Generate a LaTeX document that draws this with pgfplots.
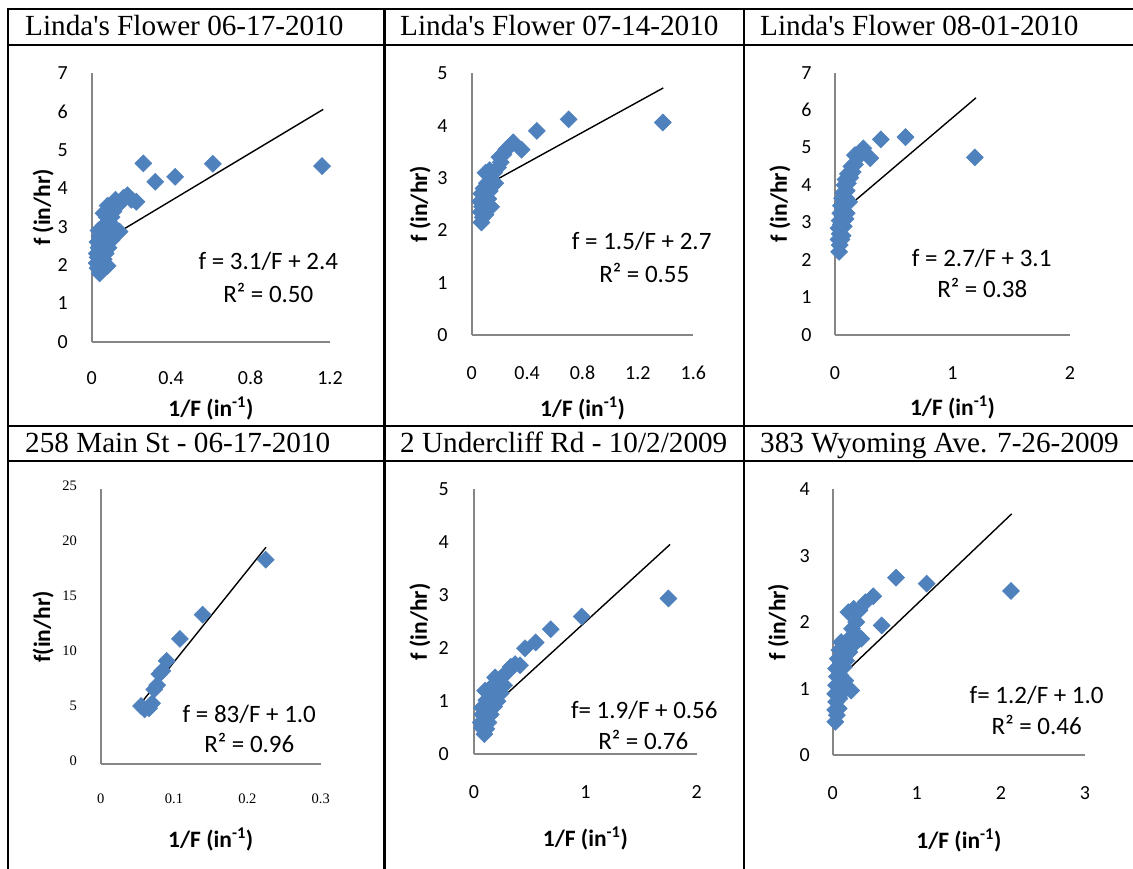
\documentclass[border=0pt]{standalone}
\usepackage{fontspec}
\setmainfont{Liberation Serif}
\newfontfamily\carlito{Carlito}
\usepackage{pgfplots}
\pgfplotsset{compat=1.18}
\definecolor{exblue}{HTML}{4F81BD}
\definecolor{axgray}{HTML}{868686}
\pgfplotsset{
  excel/.style={
    scale only axis,
    anchor=south west,
    axis lines=left,
    axis line style={-, draw=axgray, line width=1.7pt},
    major tick length=0pt,
    clip=false,
    enlargelimits=false,
    /pgf/number format/assume math mode=true,
    ticklabel style={font=\fontsize{20}{24}\selectfont\carlito},
    yticklabel style={anchor=east, inner sep=0pt},
    xticklabel style={anchor=center, inner sep=0pt},
    label style={font=\fontsize{23.5}{27}\selectfont\carlito\bfseries},
    xlabel style={anchor=center, inner sep=0pt},
    ylabel style={anchor=center, inner sep=0pt},
  },
  pts/.style={only marks, mark=square*, mark size=6,
    mark options={rotate=45, draw=exblue, fill=exblue, line width=0.6pt}},
  trend/.style={black, line width=1.4pt, no marks},
}
\newcommand{\xl}{1/F (in\textsuperscript{-1})}
\newcommand{\eqfont}{\fontsize{25}{28}\selectfont\carlito}
\begin{document}
\begin{tikzpicture}[x=1pt,y=1pt]
\useasboundingbox (0,0) rectangle (1133,869);
% table lines
\begin{scope}[line width=2.3pt]
\draw (8,860) -- (1133,860);
\draw (8,824) -- (1133,824);
\draw (8,443) -- (1133,443);
\draw (8,408) -- (1133,408);
\draw (8,861.15) -- (8,0);
\draw (384.5,860) -- (384.5,0);
\draw (744,860) -- (744,0);
\end{scope}
\begin{scope}[font=\fontsize{29.2}{33}\selectfont]
\node[anchor=base west, inner sep=0pt] at (25,833) {Linda\textquotesingle s Flower 06-17-2010};
\node[anchor=base west, inner sep=0pt] at (400,833) {Linda\textquotesingle s Flower 07-14-2010};
\node[anchor=base west, inner sep=0pt] at (760,833) {Linda\textquotesingle s Flower 08-01-2010};
\node[anchor=base west, inner sep=0pt] at (25,416) {258 Main St - 06-17-2010};
\node[anchor=base west, inner sep=0pt] at (400,416) {2 Undercliff Rd - 10/2/2009};
\node[anchor=base west, inner sep=0pt] at (760,416) {383 Wyoming Ave. 7-26-2009};
\end{scope}

% Panel 1
\begin{axis}[excel, at={(91.7pt,527.3pt)}, width=238.3pt, height=268.4pt,
  xmin=0, xmax=1.2, ymin=0, ymax=7, xtick={0,0.4,0.8,1.2}, ytick={0,1,...,7},
  xticklabel style={yshift=-36.3pt}, yticklabel style={xshift=-23.7pt},
  xlabel={\xl}, ylabel={f (in/hr)},
  xlabel style={at={(axis description cs:0.5,-0.248)}},
  ylabel style={at={(axis description cs:-0.204,0.5)}}]
\addplot[pts] table {
x y
0.040 1.78
0.030 1.92
0.055 1.95
0.080 1.98
0.025 2.05
0.045 2.10
0.030 2.20
0.060 2.15
0.025 2.30
0.045 2.35
0.070 2.30
0.035 2.45
0.060 2.50
0.085 2.45
0.030 2.60
0.050 2.65
0.075 2.60
0.100 2.65
0.040 2.75
0.065 2.80
0.110 2.75
0.035 2.90
0.055 2.95
0.085 2.90
0.140 2.87
0.120 2.95
0.065 3.05
0.090 3.10
0.075 3.25
0.100 3.25
0.060 3.35
0.090 3.40
0.110 3.40
0.080 3.55
0.105 3.60
0.130 3.55
0.120 3.70
0.150 3.65
0.160 3.75
0.180 3.82
0.200 3.70
0.225 3.65
0.26 4.65
0.32 4.17
0.42 4.30
0.61 4.64
1.16 4.58
};
\addplot[trend] coordinates {(0.037,2.55) (1.166,6.06)};
\end{axis}
\node[font=\eqfont] at (268.3,607.3) {f = 3.1/F + 2.4};
\node[font=\eqfont] at (268.3,575.7) {R² = 0.50};

% Panel 2
\begin{axis}[excel, at={(471.7pt,534pt)}, width=221.6pt, height=261.7pt,
  xmin=0, xmax=1.6, ymin=0, ymax=5, xtick={0,0.4,0.8,1.2,1.6}, ytick={0,1,...,5},
  xticklabel style={yshift=-38pt}, yticklabel style={xshift=-24pt},
  xlabel={\xl}, ylabel={f (in/hr)},
  xlabel style={at={(axis description cs:0.5,-0.279)}},
  ylabel style={at={(axis description cs:-0.233,0.5)}}]
\addplot[pts] table {
x y
0.070 2.15
0.080 2.25
0.065 2.35
0.100 2.30
0.075 2.45
0.110 2.45
0.140 2.45
0.060 2.55
0.090 2.55
0.120 2.60
0.070 2.70
0.100 2.70
0.130 2.75
0.085 2.80
0.150 2.85
0.110 2.90
0.170 2.90
0.100 3.10
0.130 3.15
0.160 3.10
0.190 3.20
0.210 3.30
0.200 3.40
0.230 3.45
0.250 3.55
0.280 3.62
0.300 3.68
0.360 3.54
0.47 3.90
0.70 4.12
1.38 4.06
};
\addplot[trend] coordinates {(0.077,2.82) (1.383,4.72)};
\end{axis}
\node[font=\eqfont] at (641.7,627.3) {f = 1.5/F + 2.7};
\node[font=\eqfont] at (644.3,595.7) {R² = 0.55};

% Panel 3
\begin{axis}[excel, at={(835pt,534pt)}, width=235pt, height=262.3pt,
  xmin=0, xmax=2, ymin=0, ymax=7, xtick={0,1,2}, ytick={0,1,...,7},
  xticklabel style={yshift=-37.7pt}, yticklabel style={xshift=-23.3pt},
  xlabel={\xl}, ylabel={f (in/hr)},
  xlabel style={at={(axis description cs:0.5,-0.278)}},
  ylabel style={at={(axis description cs:-0.234,0.5)}}]
\addplot[pts] table {
x y
0.035 2.22
0.040 2.40
0.030 2.55
0.055 2.55
0.040 2.70
0.065 2.65
0.030 2.85
0.050 2.95
0.075 2.90
0.040 3.05
0.065 3.15
0.090 3.10
0.045 3.25
0.075 3.30
0.100 3.25
0.050 3.45
0.080 3.50
0.060 3.65
0.095 3.65
0.120 3.55
0.070 3.80
0.100 3.85
0.080 4.00
0.110 4.05
0.090 4.15
0.130 4.20
0.110 4.30
0.150 4.35
0.140 4.50
0.170 4.55
0.170 4.80
0.200 4.75
0.241 4.98
0.300 4.72
0.39 5.22
0.60 5.28
1.19 4.74
};
\addplot[trend] coordinates {(0.037,3.23) (1.2,6.33)};
\end{axis}
\node[font=\eqfont] at (981.7,610.7) {f = 2.7/F + 3.1};
\node[font=\eqfont] at (982.3,580.7) {R² = 0.38};

% Panel 4
\begin{axis}[excel, at={(100.7pt,104.7pt)}, width=220pt, height=275pt,
  xmin=0, xmax=0.3, ymin=0, ymax=25, xtick={0,0.1,0.2,0.3}, ytick={0,5,...,25},
  ticklabel style={font=\fontsize{14.5}{17}\selectfont\rmfamily},
  xticklabel style={yshift=-34pt}, yticklabel style={xshift=-23.7pt, yshift=3.5pt},
  xlabel={\xl}, ylabel={f(in/hr)},
  xlabel style={at={(axis description cs:0.5,-0.275)}},
  ylabel style={at={(axis description cs:-0.261,0.5)}}]
\addplot[pts] table {
x y
0.055 5.30
0.060 5.00
0.066 5.10
0.070 5.55
0.073 6.80
0.077 7.20
0.080 8.20
0.084 8.50
0.090 9.40
0.108 11.40
0.139 13.60
0.225 18.60
};
\addplot[trend] coordinates {(0.0536,5.45) (0.2254,19.73)};
\end{axis}
\node[font=\eqfont] at (249.3,155) {f = 83/F + 1.0};
\node[font=\eqfont] at (249.3,126.3) {R² = 0.96};

% Panel 5
\begin{axis}[excel, at={(474pt,114.7pt)}, width=222.7pt, height=265pt,
  xmin=0, xmax=2, ymin=0, ymax=5, xtick={0,1,2}, ytick={0,1,...,5},
  xticklabel style={yshift=-37.4pt}, yticklabel style={xshift=-25pt},
  xlabel={\xl}, ylabel={f (in/hr)},
  xlabel style={at={(axis description cs:0.5,-0.317)}},
  ylabel style={at={(axis description cs:-0.2425,0.5)}}]
\addplot[pts] table {
x y
0.093 0.38
0.070 0.50
0.110 0.48
0.060 0.60
0.090 0.62
0.130 0.60
0.075 0.75
0.110 0.78
0.150 0.75
0.070 0.88
0.090 0.90
0.130 0.92
0.180 0.90
0.110 1.02
0.160 1.05
0.210 1.00
0.100 1.20
0.140 1.15
0.190 1.20
0.240 1.15
0.170 1.30
0.220 1.35
0.270 1.30
0.190 1.45
0.260 1.48
0.300 1.55
0.330 1.65
0.370 1.70
0.413 1.68
0.458 2.00
0.554 2.11
0.689 2.36
0.967 2.60
1.746 2.94
};
\addplot[trend] coordinates {(0.075,0.72) (1.761,3.96)};
\end{axis}
\node[font=\eqfont] at (644.3,159) {f= 1.9/F + 0.56};
\node[font=\eqfont] at (643.3,129) {R² = 0.76};

% Panel 6
\begin{axis}[excel, at={(832.7pt,114pt)}, width=252.3pt, height=265.7pt,
  xmin=0, xmax=3, ymin=0, ymax=4, xtick={0,1,2,3}, ytick={0,1,...,4},
  xticklabel style={yshift=-37.7pt}, yticklabel style={xshift=-22.7pt},
  xlabel={\xl}, ylabel={f (in/hr)},
  xlabel style={at={(axis description cs:0.5,-0.320)}},
  ylabel style={at={(axis description cs:-0.2156,0.5)}}]
\addplot[pts] table {
x y
0.031 0.50
0.050 0.60
0.030 0.68
0.070 0.70
0.040 0.80
0.080 0.85
0.030 0.92
0.060 0.95
0.100 0.92
0.220 0.97
0.040 1.05
0.080 1.05
0.120 1.08
0.050 1.18
0.090 1.20
0.150 1.12
0.040 1.30
0.080 1.35
0.130 1.32
0.060 1.45
0.100 1.48
0.160 1.42
0.080 1.58
0.130 1.62
0.200 1.55
0.100 1.70
0.170 1.72
0.240 1.65
0.290 1.80
0.340 1.75
0.230 1.90
0.280 2.00
0.186 2.15
0.250 2.20
0.320 2.18
0.390 2.30
0.483 2.39
0.582 1.95
0.753 2.67
1.117 2.58
2.120 2.47
};
\addplot[trend] coordinates {(0.031,1.10) (2.128,3.63)};
\end{axis}
\node[font=\eqfont] at (1036.7,174) {f= 1.2/F + 1.0};
\node[font=\eqfont] at (1036.7,144) {R² = 0.46};
\end{tikzpicture}
\end{document}
